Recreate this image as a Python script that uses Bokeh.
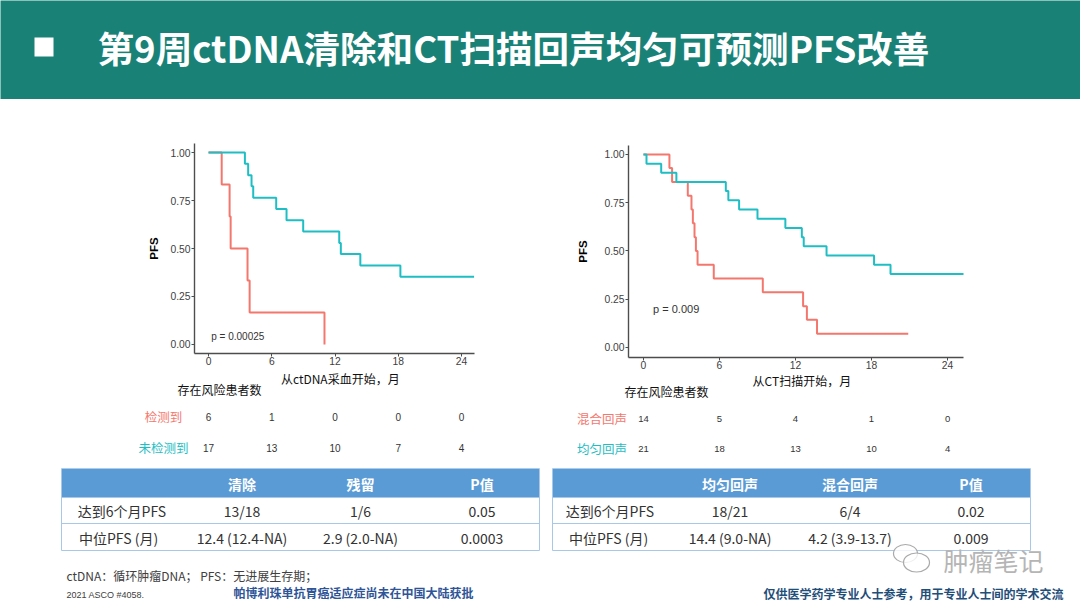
from bokeh.plotting import figure
from bokeh.layouts import column, row
from bokeh.models import Range1d, FixedTicker, NumeralTickFormatter
from bokeh.embed import file_html
from bokeh.resources import INLINE
from bokeh.core.properties import value

CJK = "Noto Sans CJK SC"
LAT = "Liberation Sans"
HDR_GREEN = "#1a8177"
RED = "#F4776E"
CYAN = "#1EBEC4"
AXC = "#4d4d4d"
TBL_BLUE = "#5b9bd5"
TBL_LINE = "#a9c8e8"
NAVY = "#2f5597"

# ---------------- data ----------------
title = "第9周ctDNA清除和CT扫描回声均匀可预测PFS改善"

# KM: ctDNA (left)
det_t = [0, 1.25, 2.0, 2.1, 3.7, 3.9, 11.0]
det_s = [1.0, 0.833, 0.667, 0.5, 0.333, 0.167, 0.0]
undet_t = [0, 3.45, 3.76, 4.08, 4.24, 6.42, 7.4, 8.98, 12.4, 12.55, 14.4, 18.2, 25.2]
undet_s = [1.0, 0.941, 0.882, 0.824, 0.765, 0.706, 0.647, 0.588, 0.529, 0.471, 0.412, 0.353, 0.353]

# KM: CT (right)
mixed_t = [0, 2.05, 2.26, 3.5, 3.79, 3.9, 4.03, 4.14, 4.27, 5.55, 9.42, 12.6, 12.9, 13.7, 20.9]
mixed_s = [1.0, 0.929, 0.857, 0.786, 0.714, 0.643, 0.571, 0.5, 0.429, 0.357, 0.286, 0.214, 0.143, 0.071, 0.071]
homo_t = [0, 0.24, 1.4, 2.6, 6.5, 6.7, 7.55, 9.0, 11.2, 12.5, 12.65, 14.45, 18.2, 19.5, 25.3]
homo_s = [1.0, 0.952, 0.905, 0.857, 0.810, 0.762, 0.714, 0.667, 0.619, 0.571, 0.524, 0.476, 0.429, 0.381, 0.381]

x_ticks = [0, 6, 12, 18, 24]
y_ticks = [0, 0.25, 0.5, 0.75, 1.0]

risk_times = [0, 6, 12, 18, 24]
risk_det = [6, 1, 0, 0, 0]
risk_undet = [17, 13, 10, 7, 4]
risk_mixed = [14, 5, 4, 1, 0]
risk_homo = [21, 18, 13, 10, 4]

left_xlabel = "从ctDNA采血开始，月"
right_xlabel = "从CT扫描开始，月"
risk_title = "存在风险患者数"
left_groups = ["检测到", "未检测到"]
right_groups = ["混合回声", "均匀回声"]
left_p = "p = 0.00025"
right_p = "p = 0.009"

tbl1_cols = ["清除", "残留", "P值"]
tbl2_cols = ["均匀回声", "混合回声", "P值"]
tbl_rows = ["达到6个月PFS", "中位PFS (月)"]
tbl1_vals = [["13/18", "1/6", "0.05"], ["12.4 (12.4-NA)", "2.9 (2.0-NA)", "0.0003"]]
tbl2_vals = [["18/21", "6/4", "0.02"], ["14.4 (9.0-NA)", "4.2 (3.9-13.7)", "0.009"]]

foot1 = "ctDNA：循环肿瘤DNA；  PFS：无进展生存期；"
foot2 = "2021 ASCO #4058."
foot_blue = "帕博利珠单抗胃癌适应症尚未在中国大陆获批"
foot_right = "仅供医学药学专业人士参考，用于专业人士间的学术交流"
watermark = "肿瘤笔记"

W = 1080
HALF = 540


def blank(width, height, xr, yr, bg="white"):
    p = figure(width=width, height=height, x_range=Range1d(*xr), y_range=Range1d(*yr),
               output_backend="svg", toolbar_location=None, tools="",
               x_axis_type=None, y_axis_type=None, min_border=0)
    p.outline_line_color = None
    p.background_fill_color = bg
    p.border_fill_color = bg
    return p


# ---------------- header ----------------
hdr = blank(W, 99, (0, W), (99, 0), bg=HDR_GREEN)
hdr.rect(x=[43.5], y=[46.5], width=19, height=19, fill_color="white", line_color=None)
hdr.text(x=[97], y=[47], text=[title], text_font=value(CJK), text_font_style="bold",
         text_font_size="36.6px", text_color="white", text_baseline="middle", text_align="left")


# ---------------- KM figures ----------------
def km_fig(height, bl, br, bt, bb, xr, yr, curves, ptext, pxy, standoff, psize):
    p = figure(width=HALF, height=height, x_range=Range1d(*xr), y_range=Range1d(*yr),
               output_backend="svg", toolbar_location=None, tools="",
               min_border_left=bl, min_border_right=br, min_border_top=bt, min_border_bottom=bb)
    p.outline_line_color = None
    p.grid.visible = False
    p.xaxis.ticker = FixedTicker(ticks=x_ticks)
    p.yaxis.ticker = FixedTicker(ticks=y_ticks)
    p.yaxis.formatter = NumeralTickFormatter(format="0.00")
    for ax in (p.xaxis, p.yaxis):
        ax.axis_line_color = AXC
        ax.axis_line_width = 1.4
        ax.major_tick_line_color = AXC
        ax.major_tick_out = 3
        ax.major_tick_in = 0
        ax.minor_tick_line_color = None
        ax.major_label_text_font = LAT
        ax.major_label_text_font_size = "10.3px"
        ax.major_label_text_color = "#404040"
        ax.major_label_standoff = 1
    p.xaxis.major_label_standoff = 0
    p.yaxis.axis_label = "PFS"
    p.yaxis.axis_label_text_font = LAT
    p.yaxis.axis_label_text_font_style = "bold"
    p.yaxis.axis_label_text_font_size = "11.5px"
    p.yaxis.axis_label_text_color = "black"
    p.yaxis.axis_label_standoff = standoff
    for t, s, c in curves:
        p.step(x=t, y=s, mode="after", line_color=c, line_width=2)
    p.text(x=[pxy[0]], y=[pxy[1]], text=[ptext], text_font=value(LAT), text_font_size=psize,
           text_color="#333333", text_baseline="middle", text_align="left")
    return p


L_xr = (-1.33, 25.23)
L_bl, L_br = 194, 66
kmL = km_fig(270, L_bl, L_br, 44, 16, L_xr, (-0.047, 1.047),
             [(det_t, det_s, RED), (undet_t, undet_s, CYAN)], left_p, (0.26, 0.043), 7, "10px")

R_xr = (-1.18, 25.26)
R_bl, R_br = 88, 117
kmR = km_fig(273, R_bl, R_br, 46, 15, R_xr, (-0.052, 1.046),
             [(mixed_t, mixed_s, RED), (homo_t, homo_s, CYAN)], right_p, (0.76, 0.20), 12, "11px")


# ---------------- risk tables ----------------
def risk_fig(height, top, xr, bl, br, xlabel, xlabel_y, groups, rows, lab_x, head_x, ys, head_y, numsize):
    ppu = (HALF - bl - br) / (xr[1] - xr[0])
    start = xr[0] - bl / ppu
    end = start + HALF / ppu
    p = blank(HALF, height, (start, end), (465, top))
    p.text(x=[12.5], y=[xlabel_y], text=[xlabel], text_font=value(CJK), text_font_size="12px",
           text_color="#111111", text_baseline="middle", text_align="center")
    p.text(x=[head_x], y=[head_y], text=[risk_title], text_font=value(CJK), text_font_size="12px",
           text_color="#111111", text_baseline="middle", text_align="left")
    for g, vals, c, y in zip(groups, rows, (RED, CYAN), ys):
        p.text(x=[lab_x], y=[y], text=[g], text_font=value(CJK), text_font_size="12.5px",
               text_color=c, text_baseline="middle", text_align="center")
        p.text(x=risk_times, y=[y] * len(risk_times), text=[str(v) for v in vals],
               text_font=value(LAT), text_font_size=numsize, text_color="#333333",
               text_baseline="middle", text_align="center")
    return p


riskL = risk_fig(96, 369, L_xr, L_bl, L_br, left_xlabel, 377.5, left_groups, [risk_det, risk_undet],
                 -4.27, -2.94, [416, 447], 389, "10px")
riskR = risk_fig(93, 372, R_xr, R_bl, R_br, right_xlabel, 379.5, right_groups, [risk_mixed, risk_homo],
                 -3.28, -1.5, [418, 448], 391, "9.5px")


# ---------------- bottom tables & footer ----------------
bot = blank(W, 143, (0, W), (608, 465))


def draw_table(p, x0, x1, cols, vals, colx, labx):
    p.quad(left=[x0], right=[x1], top=[468], bottom=[497], fill_color=TBL_BLUE, line_color=None)
    p.segment(x0=[x0, x0, x0], y0=[497, 523, 550], x1=[x1, x1, x1], y1=[497, 523, 550],
              line_color=TBL_LINE, line_width=1.2)
    p.segment(x0=[x0, x1], y0=[468, 468], x1=[x0, x1], y1=[550, 550], line_color=TBL_LINE, line_width=1)
    p.text(x=colx, y=[483] * 3, text=cols, text_font=value(CJK), text_font_style="bold",
           text_font_size="14px", text_color="white", text_baseline="middle", text_align="center")
    for r, (lab, rv, y) in enumerate(zip(tbl_rows, vals, [510.5, 537.5])):
        p.text(x=[labx[r]], y=[y], text=[lab], text_font=value(CJK), text_font_size="14px",
               text_color="#333333", text_baseline="middle", text_align="center")
        p.text(x=colx, y=[y] * 3, text=rv, text_font=value(CJK), text_font_size="14px",
               text_color="#333333", text_baseline="middle", text_align="center")


draw_table(bot, 61, 539, tbl1_cols, tbl1_vals, [241.5, 360, 481.5], [121.5, 118])
draw_table(bot, 552, 1030, tbl2_cols, tbl2_vals, [729.5, 849.5, 970.5], [609.5, 608])

bot.text(x=[66], y=[575], text=[foot1], text_font=value(CJK), text_font_size="12px",
         text_color="#404040", text_baseline="middle", text_align="left")
bot.text(x=[66], y=[594], text=[foot2], text_font=value(LAT), text_font_size="9px",
         text_color="#404040", text_baseline="middle", text_align="left")
bot.text(x=[233], y=[592], text=[foot_blue], text_font=value(CJK), text_font_style="bold",
         text_font_size="12px", text_color=NAVY, text_baseline="middle", text_align="left")
bot.text(x=[763], y=[593], text=[foot_right], text_font=value(CJK), text_font_style="bold",
         text_font_size="12px", text_color="#1f4e79", text_baseline="middle", text_align="left")
# watermark
bot.ellipse(x=[905, 916], y=[553, 562], width=[24, 26], height=[18, 19],
            fill_color="white", fill_alpha=0.8, line_color="#aaaaaa", line_width=1.2)
bot.text(x=[943], y=[559], text=[watermark], text_font=value(CJK), text_font_size="25px",
         text_color="#b5b5b5", text_baseline="middle", text_align="left")

left_col = column(kmL, column(riskL))
right_col = column(kmR, column(riskR))
layout = column(hdr, row(left_col, right_col), bot)
open("out.html", "w").write(file_html(layout, INLINE))
